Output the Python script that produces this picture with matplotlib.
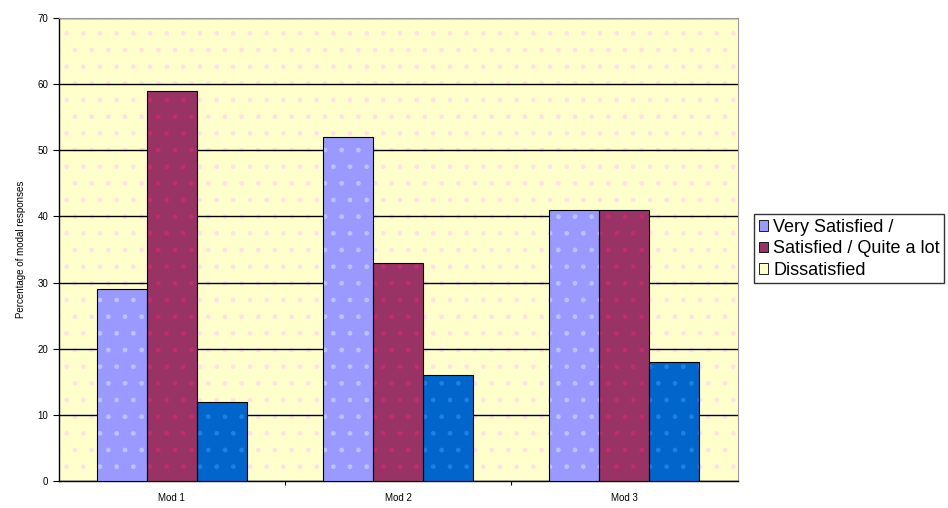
import matplotlib.pyplot as plt
import matplotlib.patches as mpatches
import numpy as np

plt.rcParams['font.family'] = ['Liberation Sans', 'DejaVu Sans']

groups = ['Mod 1', 'Mod 2', 'Mod 3']
very_satisfied = [29, 52, 41]
satisfied = [59, 33, 41]
dissatisfied = [12, 16, 18]
yticks = [0, 10, 20, 30, 40, 50, 60, 70]

series = [very_satisfied, satisfied, dissatisfied]
bar_colors = ['#9999ff', '#993366', '#0066cc']
dot_colors = ['#b8c4ff', '#c02c6c', '#2080e0']
legend_labels = ['Very Satisfied /', 'Satisfied / Quite a lot', 'Dissatisfied']
legend_colors = ['#9999ff', '#993366', '#ffffcc']

fig = plt.figure(figsize=(9.48, 5.08), dpi=100)
ax = fig.add_axes([0.062, 0.053, 0.716, 0.912])
ax.set_facecolor('#ffffcc')

# faint dotted texture on the plot background
ax.add_patch(mpatches.Rectangle((0, 0), 1, 1, transform=ax.transAxes,
                                facecolor='none', edgecolor='#ffe2e6',
                                hatch='.', linewidth=0, zorder=0.5))

x = np.arange(len(groups))
width = 0.221
for i, (vals, col, dot) in enumerate(zip(series, bar_colors, dot_colors)):
    pos = x + (i - 1) * width
    ax.bar(pos, vals, width, color=col, edgecolor=dot, hatch='.',
           linewidth=0, zorder=3)
    ax.bar(pos, vals, width, fill=False, edgecolor='black',
           linewidth=0.8, zorder=4)

ax.set_xlim(-0.5, 2.5)
ax.set_ylim(0, 70)
ax.set_yticks(yticks)
ax.set_xticks([0.5, 1.5])
ax.set_xticklabels([])
ax.tick_params(axis='x', length=3, width=0.8, direction='out')
ax.tick_params(axis='y', length=4, width=0.8, labelsize=7)
ax.grid(axis='y', color='black', linewidth=1.0, zorder=1)
ax.set_axisbelow(True)

for i, g in enumerate(groups):
    ax.text(i, -2.6, g, ha='center', va='center', fontsize=7)

for side in ['top', 'right']:
    ax.spines[side].set_color('#999999')
ax.spines['left'].set_linewidth(1.0)
ax.spines['bottom'].set_linewidth(1.0)

ax.set_ylabel('Percentage of modal responses', fontsize=7, labelpad=8)

handles = [mpatches.Patch(facecolor=c, edgecolor='black', linewidth=0.6)
           for c in legend_colors]
leg = fig.legend(handles, legend_labels, loc='center right',
                 bbox_to_anchor=(0.996, 0.51), fontsize=13,
                 frameon=True, fancybox=False, handlelength=0.5,
                 handleheight=0.5, handletextpad=0.3, borderpad=0.25,
                 labelspacing=0.25, borderaxespad=0)
leg.get_frame().set_edgecolor('black')
leg.get_frame().set_linewidth(1.0)

fig.savefig('out.png', dpi=100)
